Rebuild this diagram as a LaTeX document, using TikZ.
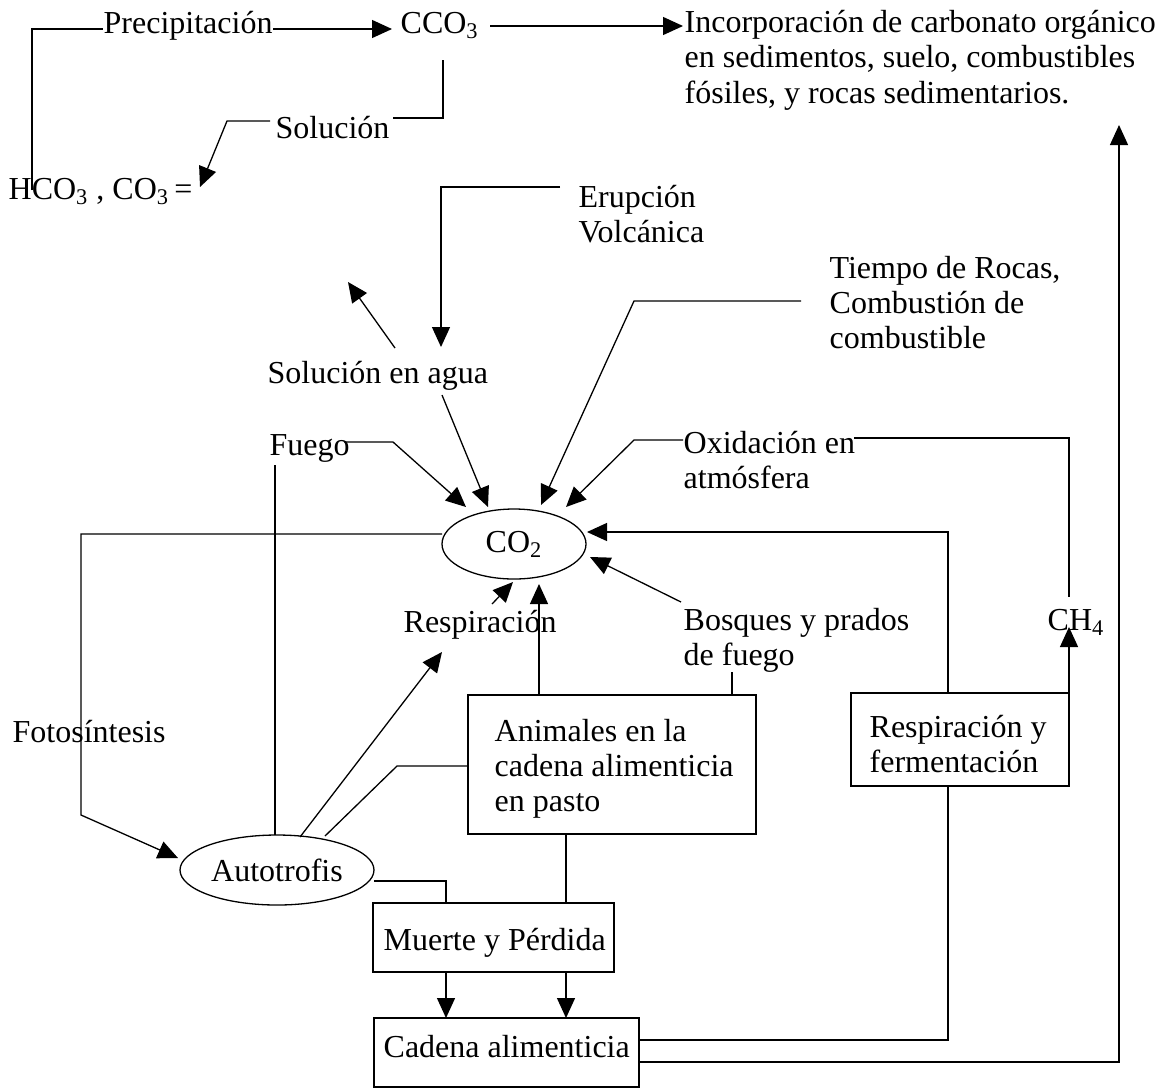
\documentclass[tikz,border=0pt]{standalone}
\usepackage{fontspec}
\setmainfont{Liberation Serif}
\usetikzlibrary{arrows.meta,shapes.geometric}
\begin{document}
\begin{tikzpicture}[x=0.5pt,y=-0.5pt,line width=0.65pt,
  txt/.style={inner sep=0pt,anchor=base west,font=\fontsize{16}{18}\selectfont},
  rbox/.style={draw,inner sep=0pt},
  oval/.style={draw,ellipse,inner sep=0pt,font=\fontsize{16}{18}\selectfont},
  arr/.style={-{Triangle[length=10pt,width=9pt]}}]
\useasboundingbox (0,0) rectangle (1165,1088);

% ---------- texts ----------
\node[txt] (prec) at (103,33) {Precipitación};
\node[txt] (cco) at (400,33) {CCO\textsubscript{3}};
\node[txt] (inca) at (684,32) {Incorporación de carbonato orgánico};
\node[txt] (incb) at (684,67) {en sedimentos, suelo, combustibles};
\node[txt] (incc) at (684,103) {fósiles, y rocas sedimentarios.};
\node[txt] (sol) at (275,138) {Solución};
\node[txt] (hco) at (8,199) {HCO\textsubscript{3} , CO\textsubscript{3}\,=};
\node[txt] (erua) at (578,207) {Erupción};
\node[txt] (erub) at (578,242) {Volcánica};
\node[txt] (tiea) at (829,278) {Tiempo de Rocas,};
\node[txt] (tieb) at (829,313) {Combustión de};
\node[txt] (tiec) at (829,348) {combustible};
\node[txt] (solag) at (267,383) {Solución en agua};
\node[txt] (fue) at (269,455) {Fuego};
\node[txt] (oxa) at (683,453) {Oxidación en};
\node[txt] (oxb) at (683,488) {atmósfera};
\node[txt] (resp) at (403,632) {Respiración};
\node[txt] (bosa) at (683,630) {Bosques y prados};
\node[txt] (bosb) at (683,665) {de fuego};
\node[txt] (ch) at (1047,630) {CH\textsubscript{4}};
\node[txt] (foto) at (12,742) {Fotosíntesis};
\node[txt] (ania) at (494,741) {Animales en la};
\node[txt] (anib) at (494,776) {cadena alimenticia};
\node[txt] (anic) at (494,811) {en pasto};
\node[txt] (rfa) at (869,737) {Respiración y};
\node[txt] (rfb) at (869,772) {fermentación};
\node[txt] (mue) at (383,950) {Muerte y Pérdida};
\node[txt] (cad) at (383,1057) {Cadena alimenticia};

% ---------- shapes ----------
\node[oval,minimum width=72pt,minimum height=35pt] (co2) at (514,544) {CO\textsubscript{2}};
\node[oval,minimum width=97pt,minimum height=35pt] (auto) at (277,870) {Autotrofis};
\node[rbox,minimum width=144pt,minimum height=69.5pt] (anim) at (612,764.5) {};
\node[rbox,minimum width=109pt,minimum height=46.5pt] (rfer) at (960,739.5) {};
\node[rbox,minimum width=120.5pt,minimum height=34.5pt] (muer) at (493.5,937.5) {};
\node[rbox,minimum width=132.5pt,minimum height=34.5pt] (cade) at (506.5,1052.5) {};

% ---------- coordinates ----------
\coordinate (p1) at (32,190);
\coordinate (p2) at (32,29);
\coordinate (p3) at (103,29);
\coordinate (p4) at (273,29);
\coordinate (p5) at (392,29);
\coordinate (c1) at (490,26);
\coordinate (c2) at (683,26);
\coordinate (c3) at (443,60);
\coordinate (c4) at (443,118);
\coordinate (c5) at (393,118);
\coordinate (s1) at (270,121);
\coordinate (s2) at (227,121);
\coordinate (s3) at (200,187);
\coordinate (e1) at (560,187);
\coordinate (e2) at (441,187);
\coordinate (e3) at (441,347);
\coordinate (w1) at (395,348);
\coordinate (w2) at (348,282);
\coordinate (w3) at (442,395);
\coordinate (w4) at (488,507);
\coordinate (t1) at (801,301);
\coordinate (t2) at (634,301);
\coordinate (t3) at (541,505);
\coordinate (f1) at (344,442);
\coordinate (f2) at (393,442);
\coordinate (f3) at (466,507);
\coordinate (o1) at (683,440);
\coordinate (o2) at (634,440);
\coordinate (o3) at (566,507);
\coordinate (o4) at (854,438);
\coordinate (o5) at (1069,438);
\coordinate (o6) at (1069,597);
\coordinate (m1) at (1069,693);
\coordinate (m2) at (1069,627);
\coordinate (r1) at (948,693);
\coordinate (r2) at (948,532);
\coordinate (r3) at (587,532);
\coordinate (b1) at (681,602);
\coordinate (b2) at (590,557);
\coordinate (b3) at (732,672);
\coordinate (b4) at (732,695);
\coordinate (a1) at (539,695);
\coordinate (a2) at (539,584);
\coordinate (q1) at (492,604);
\coordinate (q2) at (513,582);
\coordinate (g1) at (442,534);
\coordinate (g2) at (81,534);
\coordinate (g3) at (81,815);
\coordinate (g4) at (178,858);
\coordinate (v1) at (275,465);
\coordinate (v2) at (275,835);
\coordinate (u1) at (300,837);
\coordinate (u2) at (442,652);
\coordinate (h1) at (468,766);
\coordinate (h2) at (397,766);
\coordinate (h3) at (325,836);
\coordinate (k1) at (374,881);
\coordinate (k2) at (446,881);
\coordinate (k3) at (446,903);
\coordinate (x1) at (566,834);
\coordinate (x2) at (566,903);
\coordinate (d1) at (446,972);
\coordinate (d2) at (446,1018);
\coordinate (d3) at (566,972);
\coordinate (d4) at (566,1018);
\coordinate (z1) at (639,1040);
\coordinate (z2) at (948,1040);
\coordinate (z3) at (948,786);
\coordinate (y1) at (639,1062);
\coordinate (y2) at (1119,1062);
\coordinate (y3) at (1119,125);

% ---------- connectors ----------
\draw (p1) -- (p2) -- (p3);
\draw[arr] (p4) -- (p5);
\draw[arr] (c1) -- (c2);
\draw (c3) -- (c4) -- (c5);
\draw[arr] (s1) -- (s2) -- (s3);
\draw[arr] (e1) -- (e2) -- (e3);
\draw[arr] (w1) -- (w2);
\draw[arr] (w3) -- (w4);
\draw[arr] (t1) -- (t2) -- (t3);
\draw[arr] (f1) -- (f2) -- (f3);
\draw[arr] (o1) -- (o2) -- (o3);
\draw (o4) -- (o5) -- (o6);
\draw[arr] (m1) -- (m2);
\draw[arr] (r1) -- (r2) -- (r3);
\draw[arr] (b1) -- (b2);
\draw (b3) -- (b4);
\draw[arr] (a1) -- (a2);
\draw[arr] (q1) -- (q2);
\draw[arr] (g1) -- (g2) -- (g3) -- (g4);
\draw (v1) -- (v2);
\draw[arr] (u1) -- (u2);
\draw (h1) -- (h2) -- (h3);
\draw (k1) -- (k2) -- (k3);
\draw (x1) -- (x2);
\draw[arr] (d1) -- (d2);
\draw[arr] (d3) -- (d4);
\draw (z1) -- (z2) -- (z3);
\draw[arr] (y1) -- (y2) -- (y3);
\end{tikzpicture}
\end{document}
